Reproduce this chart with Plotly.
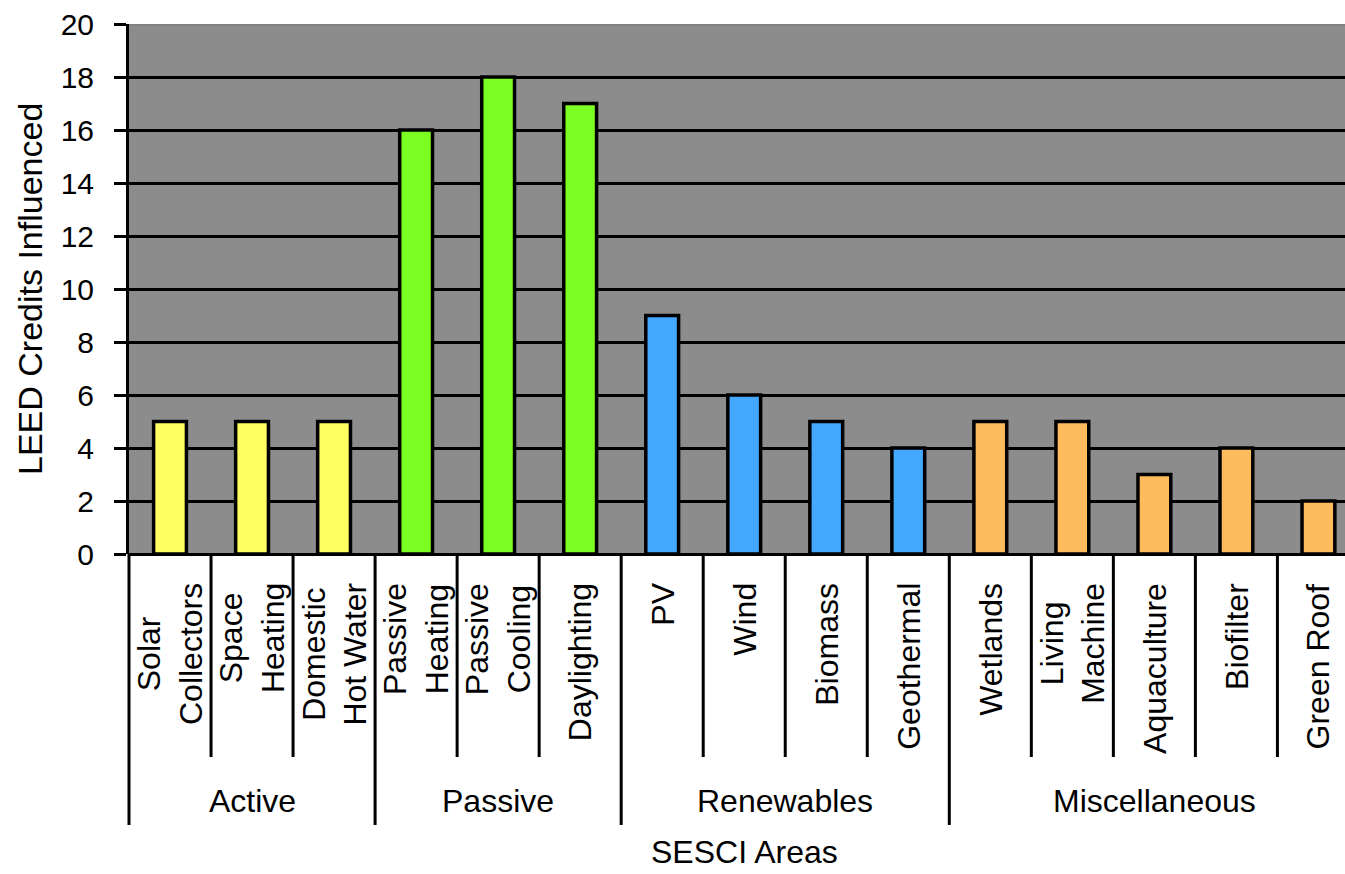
import plotly.graph_objects as go

# SESCI areas, grouped, with the number of LEED credits each one influences
groups = ["Active", "Passive", "Renewables", "Miscellaneous"]
group_sizes = [3, 3, 4, 5]
categories = [
    "Solar<br>Collectors", "Space<br>Heating", "Domestic<br>Hot Water",
    "Passive<br>Heating", "Passive<br>Cooling", "Daylighting",
    "PV", "Wind", "Biomass", "Geothermal",
    "Wetlands", "Living<br>Machine", "Aquaculture", "Biofilter", "Green Roof",
]
credits = [5, 5, 5, 16, 18, 17, 9, 6, 5, 4, 5, 5, 3, 4, 2]
group_colors = ["#FFFF62", "#7BFF22", "#44A8FF", "#FFBC5E"]
y_ticks = list(range(0, 21, 2))

FONT = "Liberation Sans, Arial, sans-serif"
FS_TICK = 30
FS_CAT = 32
FS_GROUP = 32
FS_TITLE = 34

bar_colors = []
for color, n in zip(group_colors, group_sizes):
    bar_colors += [color] * n
x_idx = list(range(len(categories)))

fig = go.Figure(
    go.Bar(
        x=x_idx,
        y=credits,
        width=0.4,
        marker=dict(color=bar_colors, line=dict(color="black", width=3.5)),
        hoverinfo="skip",
    )
)

W, H = 1345, 874
L, R, T, B = 129, 0, 24, 320
plot_h = H - T - B
cat_px = 82.03
x_max = -0.5 + (W - L - R) / cat_px


def px_down(py):
    """Paper-y coordinate for a pixel row below the plot bottom."""
    return -(py - (H - B)) / plot_h


shapes = []
# dark top border of the plot area
shapes.append(dict(type="line", xref="paper", yref="y", x0=0, x1=1, y0=20, y1=20,
                   line=dict(color="#7F7F7F", width=3), layer="above"))

# dividers between categories and between groups below the axis
bounds = []
acc = 0
for n in group_sizes:
    bounds.append(acc - 0.5)
    acc += n
group_edges = set(bounds[1:])
for i in range(1, len(categories)):
    b = i - 0.5
    y1 = px_down(825) if b in group_edges else px_down(757)
    shapes.append(dict(type="line", xref="x", yref="paper", x0=b, x1=b, y0=0, y1=y1,
                       line=dict(color="black", width=3)))
shapes.append(dict(type="line", xref="paper", yref="paper", x0=0, x1=0, y0=0,
                   y1=px_down(825), line=dict(color="black", width=3)))

annotations = []
for i, lab in enumerate(categories):
    annotations.append(dict(
        x=i, y=px_down(581), xref="x", yref="paper", text=lab, textangle=-90,
        showarrow=False, xanchor="center", yanchor="top", align="center",
        font=dict(family=FONT, size=FS_CAT, color="black"),
    ))

acc = 0
for g, n in zip(groups, group_sizes):
    annotations.append(dict(
        x=acc + (n - 1) / 2, y=px_down(801), xref="x", yref="paper", text=g,
        showarrow=False, xanchor="center", yanchor="middle",
        font=dict(family=FONT, size=FS_GROUP, color="black"),
    ))
    acc += n

annotations.append(dict(
    x=(len(categories) - 1) / 2, y=px_down(852), xref="x", yref="paper",
    text="SESCI Areas", showarrow=False, xanchor="center", yanchor="middle",
    font=dict(family=FONT, size=32, color="black"),
))
annotations.append(dict(
    x=(30 - L) / (W - L - R), y=0.5, xref="paper", yref="paper",
    text="LEED Credits Influenced", textangle=-90, showarrow=False,
    xanchor="center", yanchor="middle",
    font=dict(family=FONT, size=FS_TITLE, color="black"),
))

fig.update_layout(
    width=W, height=H,
    margin=dict(l=L, r=R, t=T, b=B, pad=0),
    paper_bgcolor="white",
    plot_bgcolor="#8C8C8C",
    showlegend=False,
    bargap=0.6,
    shapes=shapes,
    annotations=annotations,
    xaxis=dict(range=[-0.5, x_max], showticklabels=False, showgrid=False,
               zeroline=False, showline=False, ticks="", fixedrange=True),
    yaxis=dict(range=[0, 20], tickvals=y_ticks, ticks="outside", ticklen=12,
               tickwidth=3, tickcolor="black", showline=True, linecolor="black",
               linewidth=3, showgrid=True, gridcolor="black", gridwidth=3,
               zeroline=True, zerolinecolor="black", zerolinewidth=3,
               ticklabelstandoff=14,
               tickfont=dict(family=FONT, size=FS_TICK, color="black"),
               fixedrange=True),
)

fig.write_html("out.html", config={"displayModeBar": False})
